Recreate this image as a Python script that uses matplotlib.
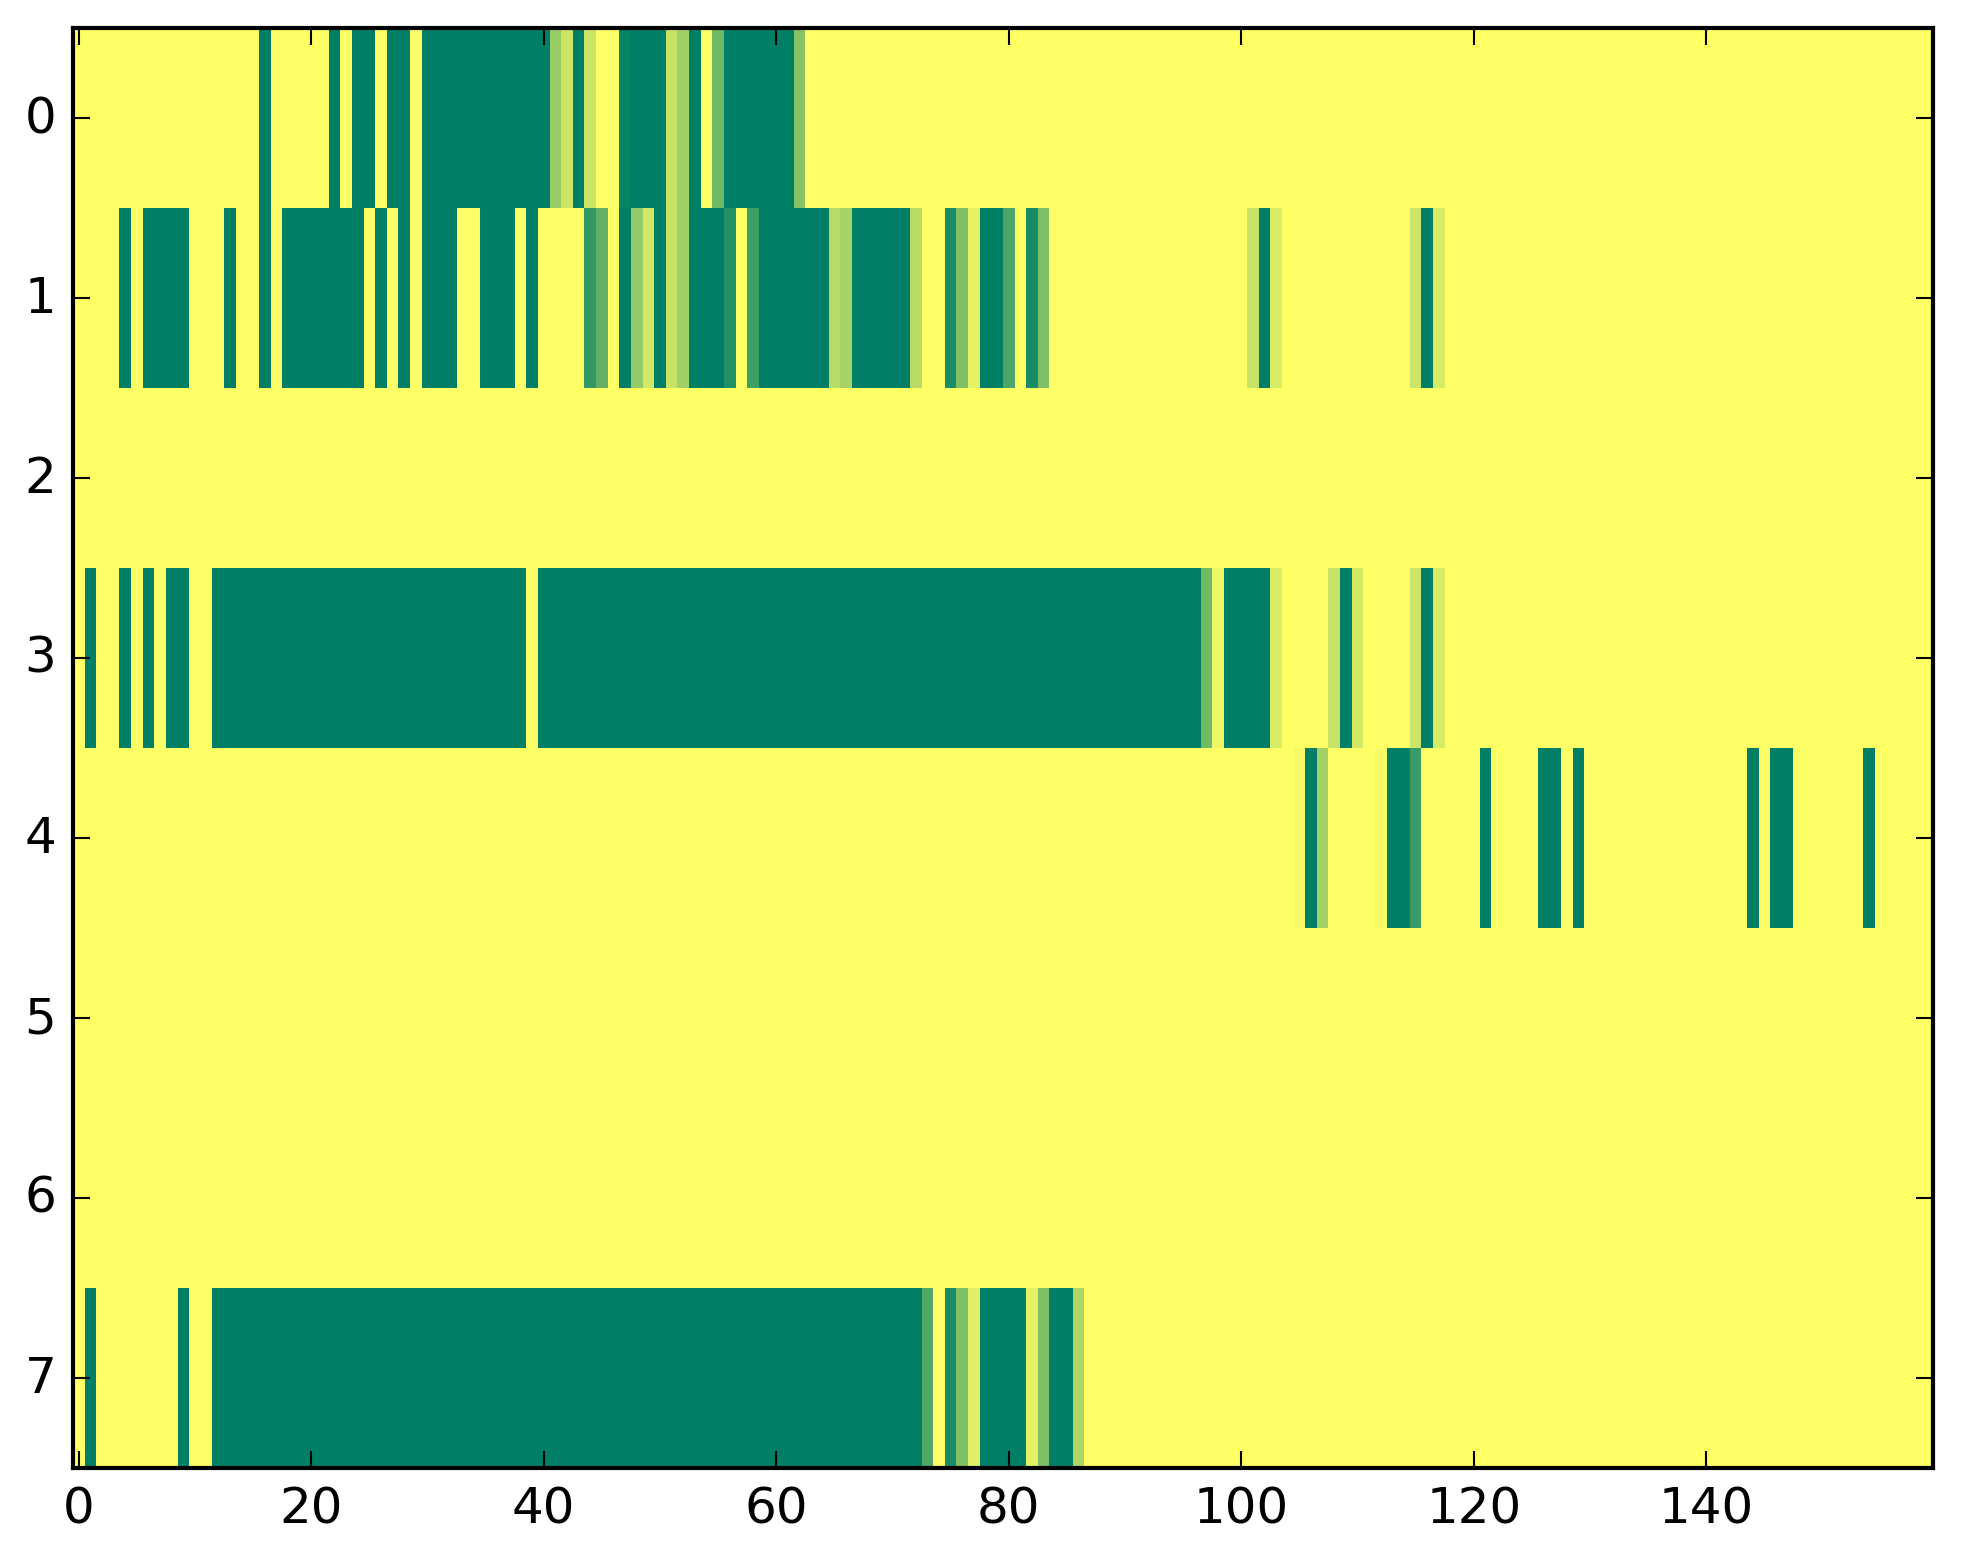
import numpy as np
import matplotlib
matplotlib.use("Agg")
import matplotlib.pyplot as plt

# one list per heatmap row, 160 columns each (written 20 per line)
row0 = [0, 0, 0, 0, 0, 0, 0, 0, 0, 0, 0, 0, 0, 0, 0, 0, 1, 0, 0, 0,
        0, 0, 1, 0, 1, 1, 0, 1, 1, 0, 1, 1, 1, 1, 1, 1, 1, 1, 1, 1,
        1, .40, .20, 1, .20, 0, 0, .97, 1, 1, 1, .22, .37, 1, 0, .56, 1, 1, 1, 1,
        1, 1, .47, 0, 0, 0, 0, 0, 0, 0, 0, 0, 0, 0, 0, 0, 0, 0, 0, 0,
        0, 0, 0, 0, 0, 0, 0, 0, 0, 0, 0, 0, 0, 0, 0, 0, 0, 0, 0, 0,
        0, 0, 0, 0, 0, 0, 0, 0, 0, 0, 0, 0, 0, 0, 0, 0, 0, 0, 0, 0,
        0, 0, 0, 0, 0, 0, 0, 0, 0, 0, 0, 0, 0, 0, 0, 0, 0, 0, 0, 0,
        0, 0, 0, 0, 0, 0, 0, 0, 0, 0, 0, 0, 0, 0, 0, 0, 0, 0, 0, 0]

row1 = [0, 0, 0, 0, 1, 0, 1, 1, 1, 1, 0, 0, 0, 1, 0, 0, 1, 0, 1, 1,
        1, 1, 1, 1, 1, 0, 1, 0, 1, 0, 1, 1, 1, 0, 0, 1, 1, 1, 0, 1,
        0, 0, 0, 0, .80, .62, 0, 1, .42, .17, 1, .22, .37, 1, 1, 1, .86, 0, .76, 1,
        1, 1, 1, 1, 1, .28, .35, 1, 1, 1, 1, 1, .28, 0, 0, .90, .50, .10, 1, 1,
        .70, 0, .90, .50, 0, 0, 0, 0, 0, 0, 0, 0, 0, 0, 0, 0, 0, 0, 0, 0,
        0, .22, 1, .15, 0, 0, 0, 0, 0, 0, 0, 0, 0, 0, 0, .20, 1, .16, 0, 0,
        0, 0, 0, 0, 0, 0, 0, 0, 0, 0, 0, 0, 0, 0, 0, 0, 0, 0, 0, 0,
        0, 0, 0, 0, 0, 0, 0, 0, 0, 0, 0, 0, 0, 0, 0, 0, 0, 0, 0, 0]

row2 = [0, 0, 0, 0, 0, 0, 0, 0, 0, 0, 0, 0, 0, 0, 0, 0, 0, 0, 0, 0,
        0, 0, 0, 0, 0, 0, 0, 0, 0, 0, 0, 0, 0, 0, 0, 0, 0, 0, 0, 0,
        0, 0, 0, 0, 0, 0, 0, 0, 0, 0, 0, 0, 0, 0, 0, 0, 0, 0, 0, 0,
        0, 0, 0, 0, 0, 0, 0, 0, 0, 0, 0, 0, 0, 0, 0, 0, 0, 0, 0, 0,
        0, 0, 0, 0, 0, 0, 0, 0, 0, 0, 0, 0, 0, 0, 0, 0, 0, 0, 0, 0,
        0, 0, 0, 0, 0, 0, 0, 0, 0, 0, 0, 0, 0, 0, 0, 0, 0, 0, 0, 0,
        0, 0, 0, 0, 0, 0, 0, 0, 0, 0, 0, 0, 0, 0, 0, 0, 0, 0, 0, 0,
        0, 0, 0, 0, 0, 0, 0, 0, 0, 0, 0, 0, 0, 0, 0, 0, 0, 0, 0, 0]

row3 = [0, 1, 0, 0, 1, 0, 1, 0, 1, 1, 0, 0, 1, 1, 1, 1, 1, 1, 1, 1,
        1, 1, 1, 1, 1, 1, 1, 1, 1, 1, 1, 1, 1, 1, 1, 1, 1, 1, 1, 0,
        1, 1, 1, 1, 1, 1, 1, 1, 1, 1, 1, 1, 1, 1, 1, 1, 1, 1, 1, 1,
        1, 1, 1, 1, 1, 1, 1, 1, 1, 1, 1, 1, 1, 1, 1, 1, 1, 1, 1, 1,
        1, 1, 1, 1, 1, 1, 1, 1, 1, 1, 1, 1, 1, 1, 1, 1, 1, .55, .06, 1,
        1, 1, 1, .15, 0, 0, 0, 0, .22, 1, .17, 0, 0, 0, 0, .20, 1, .16, 0, 0,
        0, 0, 0, 0, 0, 0, 0, 0, 0, 0, 0, 0, 0, 0, 0, 0, 0, 0, 0, 0,
        0, 0, 0, 0, 0, 0, 0, 0, 0, 0, 0, 0, 0, 0, 0, 0, 0, 0, 0, 0]

row4 = [0, 0, 0, 0, 0, 0, 0, 0, 0, 0, 0, 0, 0, 0, 0, 0, 0, 0, 0, 0,
        0, 0, 0, 0, 0, 0, 0, 0, 0, 0, 0, 0, 0, 0, 0, 0, 0, 0, 0, 0,
        0, 0, 0, 0, 0, 0, 0, 0, 0, 0, 0, 0, 0, 0, 0, 0, 0, 0, 0, 0,
        0, 0, 0, 0, 0, 0, 0, 0, 0, 0, 0, 0, 0, 0, 0, 0, 0, 0, 0, 0,
        0, 0, 0, 0, 0, 0, 0, 0, 0, 0, 0, 0, 0, 0, 0, 0, 0, 0, 0, 0,
        0, 0, 0, 0, 0, .04, 1, .36, 0, 0, 0, 0, .03, 1, 1, .77, 0, 0, 0, 0,
        0, 1, 0, 0, 0, 0, 1, 1, 0, 1, 0, 0, 0, 0, 0, 0, 0, 0, 0, 0,
        0, 0, 0, 0, 1, 0, 1, 1, 0, 0, 0, 0, 0, 0, 1, 0, 0, 0, 0, 0]

row5 = [0, 0, 0, 0, 0, 0, 0, 0, 0, 0, 0, 0, 0, 0, 0, 0, 0, 0, 0, 0,
        0, 0, 0, 0, 0, 0, 0, 0, 0, 0, 0, 0, 0, 0, 0, 0, 0, 0, 0, 0,
        0, 0, 0, 0, 0, 0, 0, 0, 0, 0, 0, 0, 0, 0, 0, 0, 0, 0, 0, 0,
        0, 0, 0, 0, 0, 0, 0, 0, 0, 0, 0, 0, 0, 0, 0, 0, 0, 0, 0, 0,
        0, 0, 0, 0, 0, 0, 0, 0, 0, 0, 0, 0, 0, 0, 0, 0, 0, 0, 0, 0,
        0, 0, 0, 0, 0, 0, 0, 0, 0, 0, 0, 0, 0, 0, 0, 0, 0, 0, 0, 0,
        0, 0, 0, 0, 0, 0, 0, 0, 0, 0, 0, 0, 0, 0, 0, 0, 0, 0, 0, 0,
        0, 0, 0, 0, 0, 0, 0, 0, 0, 0, 0, 0, 0, 0, 0, 0, 0, 0, 0, 0]

row6 = [0, 0, 0, 0, 0, 0, 0, 0, 0, 0, 0, 0, 0, 0, 0, 0, 0, 0, 0, 0,
        0, 0, 0, 0, 0, 0, 0, 0, 0, 0, 0, 0, 0, 0, 0, 0, 0, 0, 0, 0,
        0, 0, 0, 0, 0, 0, 0, 0, 0, 0, 0, 0, 0, 0, 0, 0, 0, 0, 0, 0,
        0, 0, 0, 0, 0, 0, 0, 0, 0, 0, 0, 0, 0, 0, 0, 0, 0, 0, 0, 0,
        0, 0, 0, 0, 0, 0, 0, 0, 0, 0, 0, 0, 0, 0, 0, 0, 0, 0, 0, 0,
        0, 0, 0, 0, 0, 0, 0, 0, 0, 0, 0, 0, 0, 0, 0, 0, 0, 0, 0, 0,
        0, 0, 0, 0, 0, 0, 0, 0, 0, 0, 0, 0, 0, 0, 0, 0, 0, 0, 0, 0,
        0, 0, 0, 0, 0, 0, 0, 0, 0, 0, 0, 0, 0, 0, 0, 0, 0, 0, 0, 0]

row7 = [0, 1, 0, 0, 0, 0, 0, 0, 0, 1, 0, 0, 1, 1, 1, 1, 1, 1, 1, 1,
        1, 1, 1, 1, 1, 1, 1, 1, 1, 1, 1, 1, 1, 1, 1, 1, 1, 1, 1, 1,
        1, 1, 1, 1, 1, 1, 1, 1, 1, 1, 1, 1, 1, 1, 1, 1, 1, 1, 1, 1,
        1, 1, 1, 1, 1, 1, 1, 1, 1, 1, 1, 1, 1, .68, 0, .90, .50, .12, 1, 1,
        1, 1, .11, .50, 1, 1, .31, 0, 0, 0, 0, 0, 0, 0, 0, 0, 0, 0, 0, 0,
        0, 0, 0, 0, 0, 0, 0, 0, 0, 0, 0, 0, 0, 0, 0, 0, 0, 0, 0, 0,
        0, 0, 0, 0, 0, 0, 0, 0, 0, 0, 0, 0, 0, 0, 0, 0, 0, 0, 0, 0,
        0, 0, 0, 0, 0, 0, 0, 0, 0, 0, 0, 0, 0, 0, 0, 0, 0, 0, 0, 0]

rows = [row0, row1, row2, row3, row4, row5, row6, row7]

plt.style.use("classic")

W, H, DPI = 1963, 1564, 300
fig = plt.figure(figsize=(W / DPI, H / DPI), dpi=DPI)
ax = fig.add_axes([73 / W, 95 / H, 1860 / W, 1440 / H])

grid = np.array(rows, dtype=float)
ax.imshow(grid, cmap="summer_r", vmin=0, vmax=1,
          interpolation="nearest", aspect="auto")
ax.set_yticks(range(len(rows)))

fig.savefig("out.png", dpi=DPI)
